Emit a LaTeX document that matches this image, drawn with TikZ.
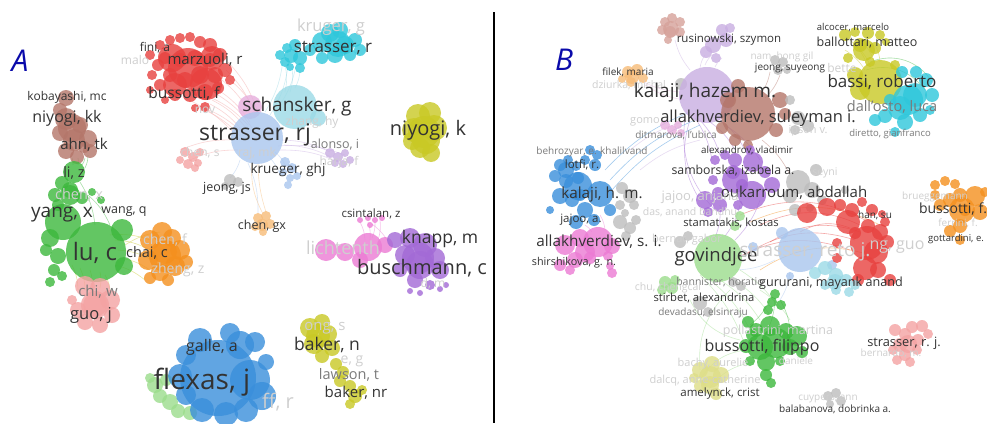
\documentclass[tikz,border=0pt]{standalone}
\usepackage{fontspec}
\setmainfont{Open Sans}
\definecolor{vred}{HTML}{E8413F}
\definecolor{vgreen}{HTML}{3DB83D}
\definecolor{vblue}{HTML}{3A8FDB}
\definecolor{volive}{HTML}{C9C925}
\definecolor{vpurple}{HTML}{A36AD6}
\definecolor{vcyan}{HTML}{2FC7DB}
\definecolor{vorange}{HTML}{F4901E}
\definecolor{vbrown}{HTML}{B4766A}
\definecolor{vpink}{HTML}{EC7BD4}
\definecolor{vgrey}{HTML}{BDBDBD}
\definecolor{vlblue}{HTML}{A9C6EE}
\definecolor{vlred}{HTML}{F4A3A3}
\definecolor{vlgreen}{HTML}{9CDD8C}
\definecolor{vlpurple}{HTML}{C9AEE2}
\definecolor{vlbrown}{HTML}{D6A29A}
\definecolor{vlcyan}{HTML}{9BDAE6}
\definecolor{vlorange}{HTML}{F7BC78}
\definecolor{vlolive}{HTML}{DEDE88}
\definecolor{vlpink}{HTML}{E7AEDD}
\definecolor{tdark}{HTML}{333333}
\definecolor{tmid}{HTML}{7A7A7A}
\definecolor{tfaint}{HTML}{CFCFCF}
\definecolor{letterblue}{HTML}{0A0AAA}
\tikzset{
  lab/.style={font=\fontsize{#1}{#1}\selectfont, text=tdark, inner sep=0pt},
  mlab/.style={font=\fontsize{#1}{#1}\selectfont, text=tmid, inner sep=0pt},
  flab/.style={font=\fontsize{#1}{#1}\selectfont, text=tfaint, inner sep=0pt},
  panel/.style={font=\fontsize{30}{30}\selectfont\itshape, text=letterblue, inner sep=0pt},
  lnstyle/.style={draw=#1, draw opacity=0.45, line width=0.6pt},
}
\newcommand{\vblobs}[2]{\foreach \x/\y/\r in {#2}{\fill[#1, fill opacity=0.8] (\x,\y) circle[radius=\r pt];}}
\newcommand{\vlinks}[2]{\foreach \a/\b/\c/\d in {#2}{\draw[lnstyle=#1] (\a,\b) to[bend left=12] (\c,\d);}}
\newcommand{\vlinksr}[2]{\foreach \a/\b/\c/\d in {#2}{\draw[lnstyle=#1] (\a,\b) to[bend right=25] (\c,\d);}}
\begin{document}
\begin{tikzpicture}[x=1pt,y=-1pt]
\useasboundingbox (0,0) rectangle (987,423);
\fill[white] (0,0) rectangle (987,423);
% divider
\draw[black, line width=1.3pt] (494,12) -- (494,423);

% ================= PANEL A: links =================
\vlinks{vlred}{205/95/248/125, 215/88/250/122, 222/80/252/118, 226/70/255/115, 212/100/246/128, 195/105/242/132, 200/108/240/136, 218/95/252/128, 230/80/258/116, 185/98/240/140, 228/62/258/113, 210/104/244/133}
\vlinks{vlcyan}{285/65/285/92, 292/68/290/92, 300/70/295/88, 283/60/265/112, 288/66/270/115, 296/66/276/110}
\vlinks{vlpurple}{282/140/330/152, 284/145/333/158, 280/150/338/162, 278/146/345/155}
\vlinks{vlblue}{275/152/285/165, 270/158/280/175, 248/163/258/213, 240/160/230/178}
\draw[lnstyle=vlorange] (252,162) to[bend right=15] (262,212);
\draw[lnstyle=vlorange] (258,164) to[bend right=8] (266,212);
\vlinks{vlred}{180/150/235/140, 190/160/238/150}
\vlinks{vgreen}{72/158/73/165, 78/158/78/165, 85/158/82/165, 88/155/85/168, 80/182/95/225, 88/195/110/225}
\vlinks{volive}{110/235/150/240, 115/240/150/250, 118/250/152/260, 120/258/150/270, 115/265/145/280, 90/270/92/290, 100/272/100/288, 80/268/85/290, 105/275/110/290, 125/245/160/232, 72/265/78/290}
\vlinks{vpink}{360/222/365/240, 368/222/370/240, 375/222/372/238, 380/220/378/240, 372/224/390/245}

% ================= PANEL A: blobs =================
% red (marzuoli / bussotti, f)
\vblobs{vred}{188/68/20, 206/84/16, 172/58/14, 175/85/12, 212/58/12, 160/45/5, 170/40/5, 180/38/5, 190/37/5, 200/42/6, 210/45/7, 220/55/7, 225/70/7, 215/75/8, 200/75/9, 185/80/8, 170/75/7, 158/65/6, 150/55/5, 152/75/5, 160/85/6, 175/95/6, 190/95/7, 205/92/8, 218/88/6, 205/107/5, 180/60/7, 195/58/8, 165/58/6, 210/60/7, 150/90/4, 165/100/4, 195/108/4, 230/80/5}
\vblobs{vlpink}{250/107/12}
\vblobs{vlcyan}{295/107/22, 318/118/8}
\vblobs{vlblue}{257/138/26}
% cyan (strasser, r)
\vblobs{vcyan}{338/44/13, 291/56/7, 280/55/5, 287/48/5, 285/62/5, 295/45/6, 300/58/7, 310/50/6, 322/42/10, 330/33/9, 340/30/8, 345/45/9, 355/40/7, 360/50/6, 335/55/8, 350/55/6, 322/58/6, 290/67/4, 300/68/5}
% yellow niyogi, k
\vblobs{volive}{424/132/16, 418/116/12, 430/113/11, 414/130/12, 426/140/14, 434/128/13, 420/148/10, 431/153/9, 412/141/9}
% lavender alonso
\vblobs{vlpurple}{330/153/5, 338/157/5, 345/153/4, 335/163/4, 343/164/4, 350/160/4}
% light blue krueger
\vblobs{vlblue}{285/162/5, 292/168/5, 283/172/4, 290/178/4, 297/176/4, 288/185/4}
% light red chen, s
\vblobs{vlred}{185/152/5, 193/157/5, 188/164/5, 198/163/4, 200/152/4, 180/160/4, 195/168/4}
% grey jeong
\vblobs{vgrey}{230/180/6, 238/182/5, 225/186/4}
% light orange chen, gx
\vblobs{vlorange}{258/218/5, 266/216/5, 262/225/6, 270/224/5, 255/227/4, 263/232/4}
% brown
\vblobs{vbrown}{72/128/14, 66/98/8, 60/110/7, 66/119/11, 80/125/8, 60/133/8, 74/140/11, 88/139/9, 90/151/7, 66/151/8, 77/157/7, 84/147/6}
% green
\vblobs{vgreen}{70/195/10, 74/172/11, 62/183/7, 70/190/8, 55/195/7, 82/198/6, 92/192/4, 63/222/18, 50/238/9, 96/252/30, 122/230/11, 58/256/8, 54/270/6, 62/276/5, 50/282/5, 46/250/6, 124/266/9, 101/200/4, 58/205/6}
% orange chai, c
\vblobs{vorange}{165/256/16, 150/240/10, 162/232/10, 172/238/9, 180/250/10, 175/266/10, 160/272/9, 148/260/10, 165/252/12, 186/262/7, 168/280/6, 150/278/6}
% light red guo, j
\vblobs{vlred}{95/305/14, 85/286/10, 100/288/10, 110/300/10, 95/305/12, 78/310/8, 85/322/8, 100/325/8, 112/315/8, 72/300/5}
% light green under flexas
\vblobs{vlgreen}{155/385/8, 160/396/7, 170/402/8, 178/411/7, 190/413/7, 166/380/6, 150/378/5}
% blue flexas
\vblobs{vblue}{218/378/38, 240/345/14, 255/342/10, 200/340/12, 186/355/10, 180/376/12, 250/380/20, 262/396/14, 246/410/12, 226/414/12, 202/410/12, 186/395/10, 266/362/8, 230/333/10}
% yellow baker
\vblobs{volive}{318/336/12, 310/328/10, 322/322/8, 328/334/9, 314/344/10, 332/348/8, 322/356/7, 336/364/6, 343/372/6, 340/381/6, 350/386/6, 355/396/7, 362/390/5, 350/404/5}
% pink lichtenthaler
\vblobs{vpink}{326/250/11, 345/252/9, 368/247/14, 360/260/8, 385/245/8}
\vblobs{vpink}{360/220/3, 368/218/3, 375/220/3, 382/218/3, 370/225/3}
% purple buschmann
\vblobs{vpurple}{418/258/16, 395/240/8, 410/238/10, 425/245/12, 405/255/10, 420/265/14, 435/258/10, 440/270/9, 415/280/8, 400/270/7, 430/285/5, 410/291/3, 420/293/3, 440/289/3, 446/285/3}

% ================= PANEL A: labels =================
\node[panel] (lA) at (20,61) {A};
\node[flab=12] (a1) at (135,60) {malo};
\node[lab=12] (a2) at (155,48) {fini, a};
\node[lab=15] (a3) at (205,60) {marzuoli, r};
\node[lab=15.5] (a4) at (184,94) {bussotti, f};
\node[flab=12] (a5) at (205,110) {nov};
\node[flab=16.5] (a6) at (331,27) {kruger, g};
\node[lab=17] (a7) at (333,48) {strasser, r};
\node[lab=19] (a8) at (297,107) {schansker, g};
\node[flab=12] (a9) at (312,122) {zhang, hy};
\node[lab=23] (a10) at (255,135) {strasser, rj};
\node[lab=20] (a11) at (428,130) {niyogi, k};
\node[mlab=12.5] (a12) at (335,145) {alonso, i};
\node[flab=12] (a13) at (339,162) {harja, f};
\node[flab=12] (a14) at (257,153) {raj, mk};
\node[flab=12] (a15) at (200,153) {chen, s};
\node[lab=13.5] (a16) at (288,170) {krueger, ghj};
\node[lab=12.5] (a17) at (227,188) {jeong, js};
\node[lab=12.5] (a18) at (262,226) {chen, gx};
\node[lab=12] (a19) at (67,97) {kobayashi, mc};
\node[lab=16] (a20) at (67,118) {niyogi, kk};
\node[lab=15] (a21) at (84,145) {ahn, tk};
\node[lab=14.5] (a22) at (74,173) {li, z};
\node[flab=14.5] (a23) at (79,195) {chen, x};
\node[lab=19] (a24) at (62,215) {yang, x};
\node[lab=12.5] (a25) at (124,212) {wang, q};
\node[lab=24] (a26) at (95,253) {lu, c};
\node[lab=14.5] (a27) at (147,253) {chai, c};
\node[flab=14] (a28) at (165,240) {chen, f};
\node[flab=14] (a29) at (178,270) {zheng, z};
\node[mlab=15] (a30) at (98,292) {chi, w};
\node[lab=16.5] (a31) at (91,315) {guo, j};
\node[lab=16] (a32) at (212,347) {galle, a};
\node[lab=28] (a33) at (202,382) {flexas, j};
\node[flab=20] (a34) at (278,402) {ff, r};
\node[lab=11.5] (a35) at (371,214) {csintalan, z};
\node[flab=18] (a36) at (343,248) {lichtenth};
\node[lab=17.5] (a37) at (440,239) {knapp, m};
\node[lab=20] (a38) at (422,268) {buschmann, c};
\node[flab=12] (a39) at (433,284) {d, m};
\node[flab=15] (a40) at (325,328) {ong, s};
\node[lab=17.5] (a41) at (327,345) {baker, n};
\node[flab=14] (a42) at (352,361) {e, g};
\node[mlab=14.5] (a43) at (349,375) {lawson, t};
\node[lab=15] (a44) at (356,393) {baker, nr};

% ================= PANEL B: links =================
\vlinks{vlpurple}{705/65/712/55, 715/67/722/58, 700/68/705/55, 690/70/675/40}
\vlinks{vlpink}{680/92/640/80, 685/100/645/85}
\vlinks{vpurple}{700/120/720/155, 710/122/735/150, 720/120/745/150, 695/118/712/160, 725/125/760/160}
\vlinksr{vpurple}{690/120/700/200, 685/118/715/210}
\vlinks{vblue}{605/170/690/112, 610/180/695/120, 612/190/700/125}
\vlinks{vbrown}{770/72/760/95, 780/75/765/98, 762/140/790/175}
\vlinks{volive}{855/45/870/65, 865/45/875/65, 875/45/880/62, 845/50/865/70, 850/40/866/62}
\draw[lnstyle=vgreen] (870,62) to[bend left=40] (932,82);
\draw[lnstyle=vgreen] (866,70) to[bend left=35] (925,90);
\vlinksr{vred}{860/225/760/225, 860/232/770/242, 855/240/745/255, 850/250/730/262, 865/220/740/215, 850/228/800/232}
\vlinksr{vorange}{880/225/750/222, 870/255/760/270}
\vlinks{vlgreen}{720/280/760/320, 730/278/770/315, 710/280/750/330, 740/270/780/310, 700/275/745/345, 760/290/790/320}
\vlinksr{vlgreen}{745/350/700/380, 755/362/705/395, 730/290/700/370, 690/300/740/340}
\vlinks{vgreen}{775/300/765/335, 780/300/790/330, 770/300/750/325}
\vlinks{vpurple}{720/205/715/238, 740/205/725/236, 760/200/735/240}
\vlinks{vlblue}{790/272/780/300, 775/260/735/270}
\vlinks{vpink}{585/225/592/232, 600/215/605/230}
\vlinks{vlpurple}{640/170/700/140, 630/150/690/120}

% ================= PANEL B: blobs =================
\vblobs{vlbrown}{671/29/8, 665/22/5, 672/18/5, 680/22/5, 662/30/5, 670/32/6, 680/32/5, 668/40/4}
\vblobs{vlpurple}{722/30/6, 730/28/5, 713/45/8, 726/40/7, 706/52/6, 716/58/5}
\vblobs{vgrey}{775/60/5, 783/62/5, 778/70/5, 787/70/4}
\vblobs{vlorange}{632/77/7, 628/72/6, 637/70/6, 643/78/5, 631/82/5, 622/79/4}
\vblobs{vgrey}{681/84/6}
\vblobs{vlpurple}{707/95/28}
\vblobs{vbrown}{748/114/27, 728/100/8, 738/86/7, 780/100/8, 785/114/6, 776/130/7, 735/140/6, 748/145/5, 722/128/6}
\vblobs{vgrey}{798/118/7, 808/126/6, 795/130/5, 790/100/5}
\vblobs{vlpink}{665/125/5, 672/130/5, 678/125/4, 681/133/4}
% yellow bassi
\vblobs{volive}{864/50/11, 845/35/6, 855/32/5, 868/33/6, 880/35/5, 886/42/4, 860/45/7, 875/48/6, 848/58/5, 870/62/5, 880/82/22, 860/90/10, 855/75/8, 895/65/5}
% cyan
\vblobs{vcyan}{908/100/15, 902/72/6, 916/72/6, 926/80/7, 932/95/7, 915/95/12, 900/108/12, 920/115/7, 905/122/8, 885/116/7, 875/120/6, 895/132/5, 930/110/5, 890/100/6}
% purple samborska / oukarroum
\vblobs{vpurple}{735/180/13, 715/160/5, 725/155/5, 735/160/7, 750/150/5, 753/162/10, 733/172/7, 752/195/14, 772/185/8, 713/180/5, 705/200/9, 718/193/6, 720/205/7, 708/212/5, 738/205/5, 765/172/6, 742/185/6}
\vblobs{vgrey}{798/182/12, 812/190/8, 790/196/7, 816/170/6, 822/200/5, 795/210/6, 845/190/4, 810/208/4}
% blue kalaji h m
\vblobs{vblue}{578/186/14, 566/170/8, 560/165/6, 568/160/5, 576/166/5, 590/150/5, 597/155/5, 585/160/5, 595/165/6, 555/176/6, 566/181/7, 578/178/6, 560/196/8, 572/200/7, 600/194/13, 585/210/8, 576/222/7, 594/220/6, 610/210/6, 550/210/4, 580/195/6}
\vblobs{vgrey}{622/188/6, 630/196/7, 620/205/5, 634/205/5, 625/213/4, 620/222/7, 630/228/6, 636/220/5, 626/236/5}
% pink allakhverdiev s i
\vblobs{vpink}{585/252/10, 565/245/10, 580/238/9, 598/242/15, 612/246/8, 575/260/8, 590/258/6, 608/256/5, 560/265/6, 570/270/5, 610/266/4, 612/273/5}
% grey bernat, bannister, stirbet
\vblobs{vgrey}{680/242/6, 688/236/5, 733/282/5, 741/286/5, 700/303/7, 708/312/5}
% light green
\vblobs{vlgreen}{665/282/6, 672/288/6, 662/290/5, 675/280/5, 735/226/5, 740/216/5, 718/258/24}
% light blue strasser reto
\vblobs{vlblue}{800/250/22, 782/233/6, 753/247/5, 832/265/5, 790/276/4}
% red
\vblobs{vred}{848/222/12, 876/252/12, 807/213/10, 827/207/9, 840/205/6, 852/210/7, 862/202/5, 872/210/6, 882/214/4, 868/226/7, 880/232/8, 887/242/7, 867/243/17, 855/233/6, 865/268/12, 878/270/8, 890/280/6, 858/280/6, 837/243/5, 837/258/5, 885/222/5}
% light cyan gururani
\vblobs{vlcyan}{835/282/8, 815/273/6, 825/268/7, 836/275/7, 846/280/6, 836/290/5, 849/292/5, 855/285/5, 825/285/5}
% green bussotti filippo
\vblobs{vgreen}{776/343/15, 775/294/5, 772/302/5, 781/305/5, 768/310/5, 748/322/6, 756/330/7, 770/326/10, 786/331/8, 797/336/10, 790/347/8, 760/347/13, 766/362/9, 746/346/7, 750/361/5, 780/361/5, 802/352/6, 766/375/6, 771/383/5, 752/335/6}
% light yellow amelynck
\vblobs{vlolive}{710/377/11, 700/370/8, 712/364/8, 721/375/8, 710/385/9, 700/386/6, 716/394/6, 694/378/5}
% orange bussotti f.
\vblobs{vorange}{962/210/13, 935/185/5, 945/181/5, 955/184/5, 960/195/7, 950/200/7, 940/205/6, 935/195/5, 975/196/10, 980/212/8, 965/210/6, 960/226/7, 950/231/6, 960/240/5, 985/192/5}
% light red strasser r. j.
\vblobs{vlred}{908/344/9, 895/330/6, 905/334/6, 912/327/6, 922/326/6, 928/334/5, 918/340/6, 900/345/7, 893/350/5, 905/355/6, 910/362/5, 897/360/5, 917/350/5}
% grey cuypers
\vblobs{vgrey}{828/396/5, 836/393/5, 841/401/5, 830/404/4}

% ================= PANEL B: labels =================
\node[panel] (lB) at (564,60) {B};
\node[lab=11.5] (b1) at (729,40) {rusinowski, szymon};
\node[lab=9.5] (b2) at (853,28) {alcocer, marcelo};
\node[lab=12.5] (b3) at (867,43) {ballottari, matteo};
\node[flab=10] (b4) at (782,57) {nam, hong gil};
\node[lab=10] (b5) at (790,68) {jeong, suyeong};
\node[flab=12] (b6) at (842,68) {bette};
\node[lab=17] (b7) at (882,82) {bassi, roberto};
\node[mlab=14.5] (b8) at (892,107) {dall'osto, luca};
\node[mlab=9.5] (b9) at (890,134) {diretto, gianfranco};
\node[flab=11] (b10) at (808,131) {ipson v.};
\node[lab=10] (b11) at (628,72) {filek, maria};
\node[flab=10.5] (b12) at (629,85) {dziurka, michal};
\node[lab=19] (b13) at (705,93) {kalaji, hazem m.};
\node[lab=16.5] (b14) at (758,118) {allakhverdiev, suleyman i.};
\node[flab=11] (b15) at (645,122) {gomo};
\node[mlab=10] (b16) at (676,135) {ditmarova, l'ubica};
\node[lab=9.8] (b17) at (747,150) {alexandrov, vladimir};
\node[mlab=10] (b18) at (592,152) {behrozyar, e. khalilvand};
\node[lab=11.5] (b19) at (582,165) {lotfi, r.};
\node[lab=12.3] (b20) at (733,171) {samborska, izabela a.};
\node[flab=10.5] (b21) at (825,173) {seyni};
\node[lab=15.3] (b22) at (602,195) {kalaji, h. m.};
\node[lab=15] (b23) at (794,193) {oukarroum, abdallah};
\node[flab=13] (b24) at (700,197) {jajoo, anjana};
\node[flab=10.5] (b25) at (690,212) {das, anand bandhu};
\node[lab=11.5] (b26) at (581,220) {jajoo, a.};
\node[lab=11.2] (b27) at (731,223) {stamatakis, kostas};
\node[flab=11] (b28) at (687,240) {bernat, gabor};
\node[lab=15.3] (b29) at (599,242) {allakhverdiev, s. i.};
\node[lab=10.8] (b30) at (574,263) {shirshikova, g. n.};
\node[lab=18.5] (b31) at (716,257) {govindjee};
\node[flab=19] (b32) at (805,252) {strasser, reto j.};
\node[flab=16] (b33) at (897,247) {ng, guo};
\node[lab=10] (b34) at (875,215) {han, su};
\node[flab=10] (b35) at (935,197) {brueggemann};
\node[lab=14] (b36) at (953,209) {bussotti, f.};
\node[flab=10] (b37) at (958,223) {ferrini, f.};
\node[lab=9.5] (b38) at (956,239) {gottardini, e.};
\node[mlab=10.5] (b39) at (720,282) {bannister, horatio};
\node[flab=10.5] (b40) at (668,288) {chu, chengcai};
\node[lab=11.2] (b41) at (704,298) {stirbet, alexandrina};
\node[mlab=10] (b42) at (703,313) {devadasu, elsinraju};
\node[lab=12.6] (b43) at (831,283) {gururani, mayank anand};
\node[flab=12.5] (b44) at (778,331) {pollastrini, martina};
\node[lab=16] (b45) at (762,347) {bussotti, filippo};
\node[flab=10] (b46) at (796,361) {daniele};
\node[lab=12.8] (b47) at (904,343) {strasser, r. j.};
\node[flab=10] (b48) at (891,353) {bernardo, m.};
\node[flab=11] (b49) at (713,364) {bachy, aurelie};
\node[flab=11] (b50) at (705,381) {dalcq, anne-catherine};
\node[lab=11.5] (b51) at (720,394) {amelynck, crist};
\node[flab=10] (b52) at (828,399) {cuypers, ann};
\node[lab=10] (b53) at (835,409) {balabanova, dobrinka a.};
\end{tikzpicture}
\end{document}
